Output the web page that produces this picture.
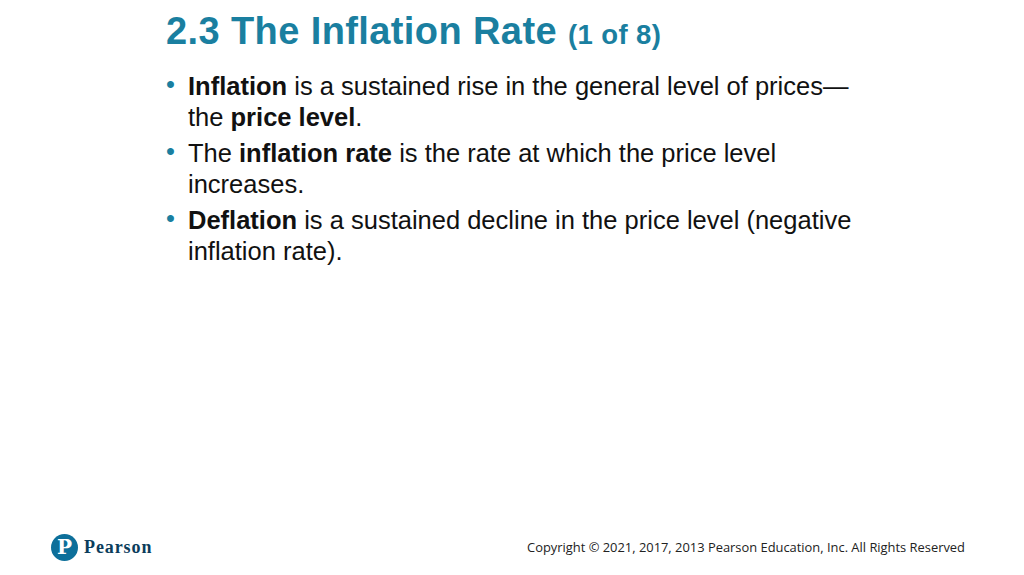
<!DOCTYPE html>
<html>
<head>
<meta charset="utf-8">
<script src="https://cdn.jsdelivr.net/npm/chart.js@4"></script>
<style>
  body { margin: 0; width: 1024px; height: 575px; background: #fff; position: relative; overflow: hidden; font-family: "Liberation Sans", Arial, sans-serif; }
  .title { position: absolute; left: 166px; top: 10px; font-size: 38px; font-weight: bold; color: #1a7fa0; letter-spacing: 0.4px; }
  .title small { font-size: 27.5px; }
  ul { position: absolute; left: 166px; top: 71px; margin: 0; padding: 0; list-style: none; width: 780px; }
  li { position: relative; padding-left: 22px; font-size: 25.5px; line-height: 30.5px; color: #111; margin-bottom: 6px; }
  li::before { content: "•"; position: absolute; left: 0; top: -2px; color: #1a7fa0; }
  .copy { position: absolute; right: 59px; top: 538px; font-family: "Open Sans", sans-serif; font-size: 12.9px; color: #222; }
  .logo { position: absolute; left: 51px; top: 534px; display: flex; align-items: center; }
  .logo .p { width: 27px; height: 27px; border-radius: 50%; background: #0d6f9a; color: #fff; font: bold 20px "DejaVu Serif", serif; text-align: center; line-height: 27px; }
  .logo .n { margin-left: 6px; font: bold 18px "Liberation Serif", serif; color: #0b3d5c; letter-spacing: 0.9px; }
</style>
</head>
<body>
<div class="title">2.3 The Inflation Rate <small>(1 of 8)</small></div>
<ul>
  <li><b>Inflation</b> is a sustained rise in the general level of prices—<br>the <b>price level</b>.</li>
  <li>The <b>inflation rate</b> is the rate at which the price level<br>increases.</li>
  <li><b>Deflation</b> is a sustained decline in the price level (negative<br>inflation rate).</li>
</ul>
<div class="logo"><div class="p">P</div><div class="n">Pearson</div></div>
<div class="copy">Copyright © 2021, 2017, 2013 Pearson Education, Inc. All Rights Reserved</div>
</body>
</html>
